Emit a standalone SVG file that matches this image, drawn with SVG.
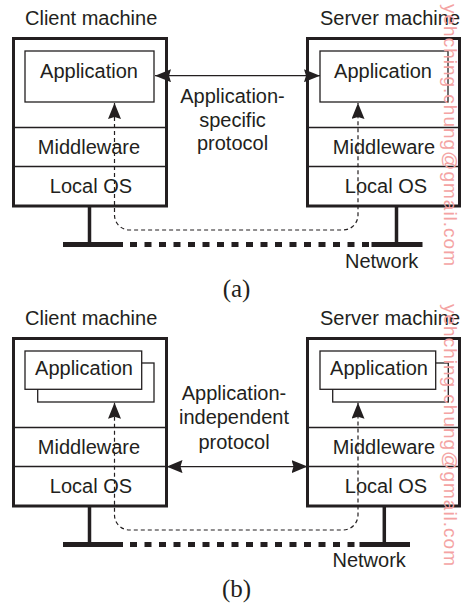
<svg xmlns="http://www.w3.org/2000/svg" width="461" height="606" viewBox="0 0 461 606">
<defs>
<style>
text{font-family:"Liberation Sans",Arial,sans-serif;font-size:20px;fill:#231f20}
.c{text-anchor:middle}
.lbl{font-family:"Liberation Serif","Times New Roman",serif;font-size:25px;text-anchor:middle}
.box{fill:#fff;stroke:#231f20;stroke-width:3}
.thin{fill:#fff;stroke:#231f20;stroke-width:1.3}
.ln{fill:none;stroke:#231f20;stroke-width:1.3}
.stand{fill:none;stroke:#231f20;stroke-width:3.5}
.base{fill:none;stroke:#231f20;stroke-width:5}
.net{fill:none;stroke:#231f20;stroke-width:5;stroke-dasharray:7 7.5}
.flow{fill:none;stroke:#231f20;stroke-width:1.2;stroke-dasharray:4 3}
.wm{font-size:19px;fill:#f4a3a3}
</style>
<marker id="ah" viewBox="0 0 16 13" refX="16" refY="6.5" markerWidth="16" markerHeight="13" markerUnits="userSpaceOnUse" orient="auto-start-reverse">
<path d="M0,0 L16,6.5 L0,13 L2,6.5 z" fill="#231f20"/>
</marker>
</defs>

<!-- Part (a) -->
<g id="client-a">
<text x="25" y="25">Client machine</text>
<rect class="box" x="13.5" y="38.5" width="153" height="167.5"/>
<rect class="thin" x="25" y="51" width="129" height="51"/>
<text class="c" x="89" y="78">Application</text>
<line class="ln" x1="13.5" y1="127.5" x2="166.5" y2="127.5"/>
<text class="c" x="89" y="154">Middleware</text>
<line class="ln" x1="13.5" y1="166.5" x2="166.5" y2="166.5"/>
<text class="c" x="91" y="193">Local OS</text>
<line class="stand" x1="89.5" y1="206" x2="89.5" y2="244"/>
<line class="base" x1="63" y1="244.5" x2="123" y2="244.5"/>
</g>
<g id="server-a">
<text x="320" y="25">Server machine</text>
<rect class="box" x="307.5" y="38.5" width="152" height="167.5"/>
<rect class="thin" x="320" y="51" width="128" height="51"/>
<text class="c" x="383" y="78">Application</text>
<line class="ln" x1="307.5" y1="127.5" x2="459.5" y2="127.5"/>
<text class="c" x="384" y="154">Middleware</text>
<line class="ln" x1="307.5" y1="166.5" x2="459.5" y2="166.5"/>
<text class="c" x="386" y="193">Local OS</text>
<line class="stand" x1="396.5" y1="206" x2="396.5" y2="244"/>
<line class="base" x1="371.5" y1="244.5" x2="422.5" y2="244.5"/>
<text x="345" y="268">Network</text>
</g>
<g id="protocol-a">
<text class="c" x="232.5" y="103">Application-</text>
<text class="c" x="232.5" y="126.5">specific</text>
<text class="c" x="232.5" y="150">protocol</text>
</g>
<text class="lbl" x="236.5" y="297">(a)</text>

<!-- Part (b) -->
<g id="client-b">
<text x="25" y="325">Client machine</text>
<rect class="box" x="13.5" y="338.5" width="153" height="167.5"/>
<rect class="thin" x="37.7" y="363" width="116.3" height="39"/>
<rect class="thin" x="25" y="351" width="116.7" height="38.3"/>
<text class="c" x="84" y="375">Application</text>
<line class="ln" x1="13.5" y1="427.5" x2="166.5" y2="427.5"/>
<text class="c" x="89" y="454">Middleware</text>
<line class="ln" x1="13.5" y1="466.5" x2="166.5" y2="466.5"/>
<text class="c" x="91" y="493">Local OS</text>
<line class="stand" x1="89.5" y1="506" x2="89.5" y2="544"/>
<line class="base" x1="63" y1="544.5" x2="123" y2="544.5"/>
</g>
<g id="server-b">
<text x="320" y="325">Server machine</text>
<rect class="box" x="307.5" y="338.5" width="152" height="167.5"/>
<rect class="thin" x="332.7" y="363" width="115.6" height="39"/>
<rect class="thin" x="320" y="351" width="115.7" height="38.3"/>
<text class="c" x="379" y="375">Application</text>
<line class="ln" x1="307.5" y1="427.5" x2="459.5" y2="427.5"/>
<text class="c" x="384" y="454">Middleware</text>
<line class="ln" x1="307.5" y1="466.5" x2="459.5" y2="466.5"/>
<text class="c" x="386" y="493">Local OS</text>
<line class="stand" x1="384.3" y1="506" x2="384.3" y2="544"/>
<line class="base" x1="359.5" y1="544.5" x2="410" y2="544.5"/>
<text x="332.5" y="567">Network</text>
</g>
<g id="protocol-b">
<text class="c" x="234" y="400">Application-</text>
<text class="c" x="234" y="423.5">independent</text>
<text class="c" x="234" y="449">protocol</text>
</g>
<text class="lbl" x="236.5" y="597">(b)</text>

<g id="connectors">
<line class="net" x1="130" y1="244.5" x2="369" y2="244.5"/>
<line class="net" x1="130" y1="544.5" x2="355" y2="544.5"/>
<line class="ln" x1="155" y1="75.7" x2="320" y2="75.7" marker-start="url(#ah)" marker-end="url(#ah)"/>
<line class="ln" x1="166.5" y1="466.6" x2="307.5" y2="466.6" marker-start="url(#ah)" marker-end="url(#ah)"/>
<path class="flow" d="M114.5,103 V215 A15,15 0 0 0 129.5,230 H343 A15,15 0 0 0 358,215 V103" marker-start="url(#ah)" marker-end="url(#ah)"/>
<path class="flow" d="M114.5,402.7 V515 A15,15 0 0 0 129.5,530 H343 A15,15 0 0 0 358,515 V402.7" marker-start="url(#ah)" marker-end="url(#ah)"/>
</g>

<g id="watermark">
<text class="wm" transform="translate(444,4) rotate(90)" x="0" y="0" textLength="262" lengthAdjust="spacing">yehching.chung@gmail.com</text>
<text class="wm" transform="translate(444,304) rotate(90)" x="0" y="0" textLength="262" lengthAdjust="spacing">yehching.chung@gmail.com</text>
</g>
</svg>
